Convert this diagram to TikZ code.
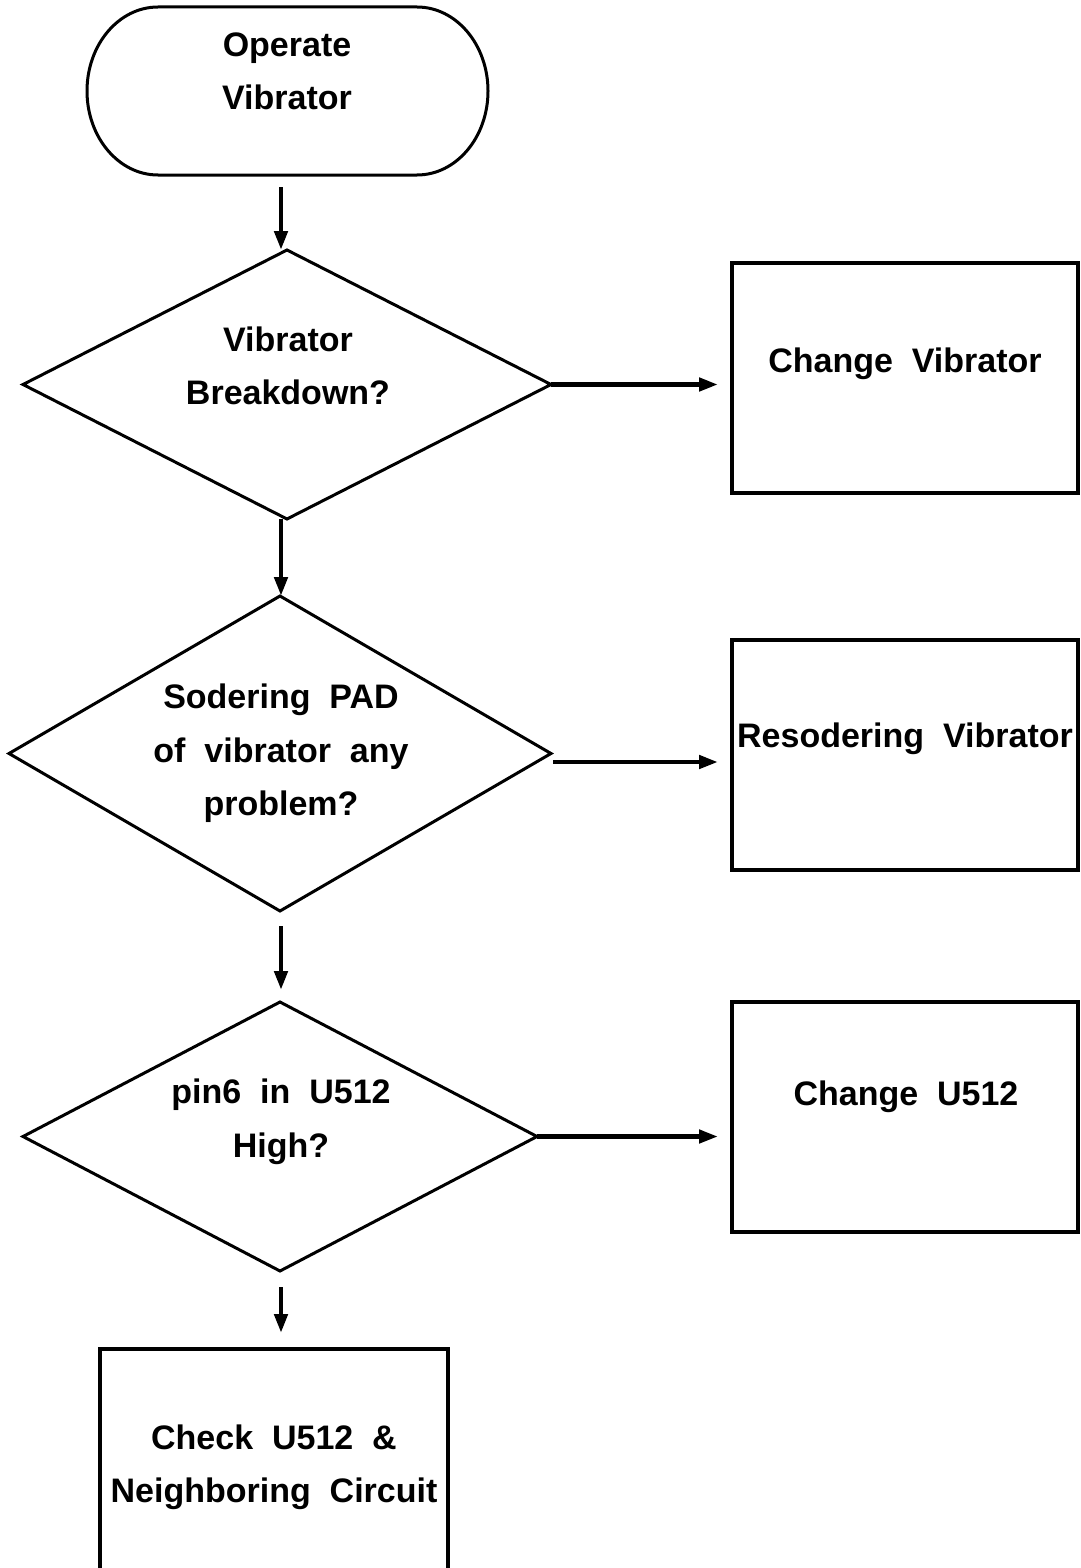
\documentclass[tikz,border=0pt]{standalone}
\usepackage{fontspec}
\setmainfont{Liberation Sans}
\usetikzlibrary{shapes.geometric,arrows.meta}
\newcommand{\wsp}{\hspace{0.556em}}
\begin{document}
\begin{tikzpicture}[x=1pt,y=-1pt,
  txt/.style={anchor=base, inner sep=0, font=\fontsize{34}{40}\selectfont\bfseries},
  dec/.style={diamond, draw, line width=3pt, inner sep=0, outer sep=0},
  proc/.style={rectangle, draw, line width=3.5pt, inner sep=0, outer sep=0, minimum width=346, minimum height=230},
  arr/.style={line width=4.5pt, -{Triangle[length=19pt,width=13pt]}}]
\useasboundingbox (0,0) rectangle (1080,1568);
\fill[white] (0,0) rectangle (1080,1568);

% start terminal
\node[inner sep=0, outer sep=0, minimum width=401, minimum height=168] (op) at (287.5,91) {};
\draw[line width=3pt] (158,7) -- (417,7)
  arc[start angle=-90,end angle=90,x radius=71,y radius=84] -- (158,175)
  arc[start angle=90,end angle=270,x radius=71,y radius=84] -- cycle;
\node[txt] (opt1) at (287,57) {Operate};
\node[txt] (opt2) at (287,110) {Vibrator};

% decisions
\node[dec, minimum width=528, minimum height=269] (d1) at (287,384.5) {};
\node[txt] (d1t1) at (288,351) {Vibrator};
\node[txt] (d1t2) at (288,404) {Breakdown?};

\node[dec, minimum width=542, minimum height=315] (d2) at (280,753.5) {};
\node[txt] (d2t1) at (281,708) {Sodering\wsp PAD};
\node[txt] (d2t2) at (281,762) {of\wsp vibrator\wsp any};
\node[txt] (d2t3) at (281,815) {problem?};

\node[dec, minimum width=514, minimum height=269] (d3) at (280,1136.5) {};
\node[txt] (d3t1) at (281,1103) {pin6\wsp in\wsp U512};
\node[txt] (d3t2) at (281,1157) {High?};

% process boxes
\node[proc] (b1) at (905,378) {};
\node[txt] (b1t) at (905,372) {Change\wsp Vibrator};
\node[proc] (b2) at (905,755) {};
\node[txt] (b2t) at (905,747) {Resodering\wsp Vibrator};
\node[proc] (b3) at (905,1117) {};
\node[txt] (b3t) at (906,1105) {Change\wsp U512};
\node[proc, minimum width=348] (b4) at (274,1464) {};
\node[txt] (b4t1) at (274,1449) {Check\wsp U512\wsp \&};
\node[txt] (b4t2) at (274,1502) {Neighboring\wsp Circuit};

% connectors
\coordinate (colx) at (281,0);
\draw[arr, shorten <=12pt] (op.south -| colx) -- (d1.north -| colx);
\draw[arr] (d1.south -| colx) -- (d2.north -| colx);
\draw[arr, shorten <=15pt, shorten >=12pt] (d2.south -| colx) -- (d3.north -| colx);
\draw[arr, shorten <=16pt, shorten >=16pt] (d3.south -| colx) -- (b4.north -| colx);

\draw[arr, shorten >=14pt] (d1.east) -- (d1.east -| b1.west);
\coordinate (r2) at (553,762);
\draw[arr, shorten >=14pt] (r2) -- (r2 -| b2.west);
\draw[arr, shorten >=14pt] (d3.east) -- (d3.east -| b3.west);
\end{tikzpicture}
\end{document}
